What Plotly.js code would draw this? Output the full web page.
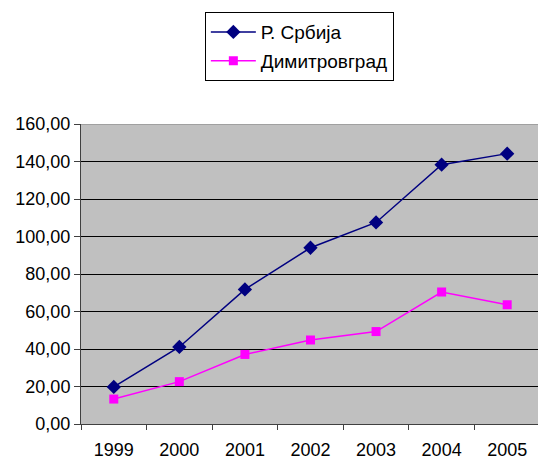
<!DOCTYPE html>
<html>
<head>
<meta charset="utf-8">
<script src="https://cdn.plot.ly/plotly-3.0.1.min.js"></script>
<style>html,body{margin:0;padding:0;background:#fff;}#chart{width:538px;height:461px;}</style>
</head>
<body>
<div id="chart"></div>
<script>
const years = ["1999", "2000", "2001", "2002", "2003", "2004", "2005"];
const srbija = [19.8, 41.1, 71.8, 94.0, 107.5, 138.3, 144.2];
const dimitrovgrad = [13.3, 22.6, 37.1, 44.8, 49.3, 70.4, 63.6];
const yTicks = [0, 20, 40, 60, 80, 100, 120, 140, 160];
const yTickText = ["0,00", "20,00", "40,00", "60,00", "80,00", "100,00", "120,00", "140,00", "160,00"];

const fontFam = "Liberation Sans, Arial, sans-serif";
const traces = [
  {
    x: years, y: srbija, name: "Р. Србија", type: "scatter", mode: "lines+markers",
    line: {color: "#000080", width: 1.5},
    marker: {symbol: "diamond", size: 11, color: "#000080"},
    legendgroup: "a"
  },
  {
    x: years, y: dimitrovgrad, name: "Димитровград", type: "scatter", mode: "lines+markers",
    line: {color: "#FF00FF", width: 1.5},
    marker: {symbol: "square", size: 9, color: "#FF00FF"},
    legendgroup: "b"
  }
];
const layout = {
  width: 538, height: 461,
  margin: {l: 81, r: 0, t: 124, b: 37},
  paper_bgcolor: "#ffffff",
  plot_bgcolor: "#C0C0C0",
  font: {family: fontFam, size: 18, color: "#000"},
  showlegend: true,
  legend: {
    x: 0.271, y: 1.373, xanchor: "left", yanchor: "top",
    bordercolor: "#000", borderwidth: 1, bgcolor: "#fff",
    font: {family: fontFam, size: 19, color: "#000"},
    traceorder: "grouped", tracegroupgap: 1, itemwidth: 45
  },
  xaxis: {
    type: "category", range: [-0.5, 6.47],
    tickson: "boundaries", ticks: "outside", ticklen: 5, tickcolor: "#404040",
    showgrid: false, showline: true, linecolor: "#404040", linewidth: 1,
    tickfont: {family: fontFam, size: 18}, ticklabelstandoff: 9,
    fixedrange: true
  },
  yaxis: {
    range: [0, 160], tickvals: yTicks, ticktext: yTickText,
    ticks: "outside", ticklen: 6, tickcolor: "#404040",
    showgrid: true, gridcolor: "#000", gridwidth: 1,
    showline: true, linecolor: "#404040", linewidth: 1,
    zeroline: false,
    tickfont: {family: fontFam, size: 18},
    fixedrange: true
  },
  shapes: [
    {type: "line", xref: "paper", yref: "y", x0: 0, x1: 1, y0: 160, y1: 160,
     line: {color: "#808080", width: 1}, layer: "above"}
  ]
};
Plotly.newPlot("chart", traces, layout, {displayModeBar: false, staticPlot: true});
</script>
</body>
</html>
